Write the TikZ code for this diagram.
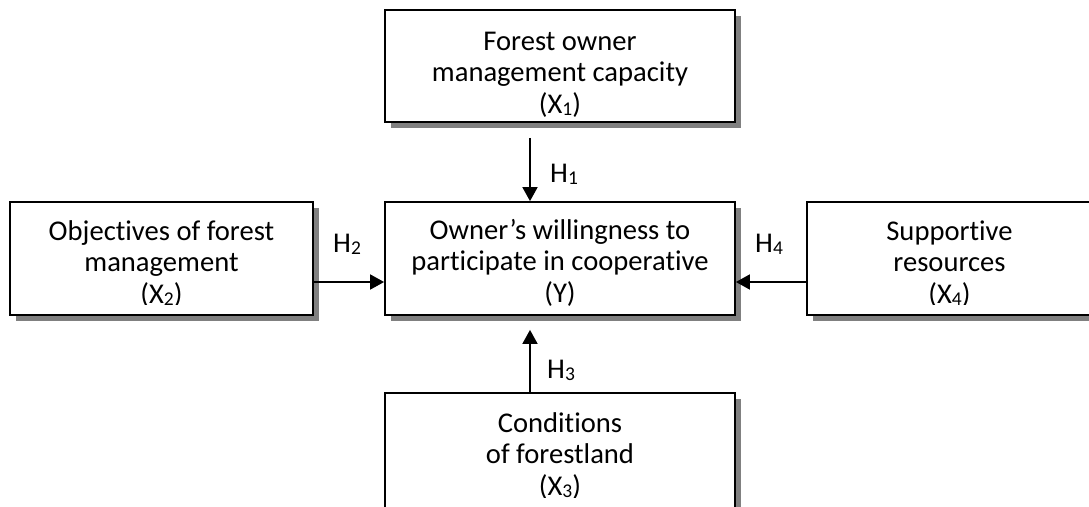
\documentclass[tikz,border=0pt]{standalone}
\usepackage{fontspec}
\setmainfont{Carlito}[Ligatures={NoCommon}]
\usetikzlibrary{arrows.meta,shadows}
\newcommand\lowsub[1]{\raisebox{-2.5pt}{\fontsize{19.5}{19.5}\selectfont #1}}
\begin{document}
\begin{tikzpicture}[x=1pt,y=-1pt,
  box/.style={draw=black, line width=1.8pt, fill=white, minimum width=#1,
    minimum height=113pt, inner sep=0pt,
    drop shadow={shadow xshift=6pt, shadow yshift=-6pt, fill=black!50, opacity=1}},
  txt/.style={align=center, font=\fontsize{28.6}{31.5}\selectfont, inner sep=0pt, anchor=base},
  hlab/.style={font=\fontsize{28.6}{31.5}\selectfont, inner sep=0pt, anchor=base west},
  arr/.style={line width=1.8pt, -{Triangle[length=14pt,width=15pt]}}]
\useasboundingbox (0,0) rectangle (1089,506);
\clip (0,0) rectangle (1089,506);
\fill[white] (0,0) rectangle (1089,506);

% boxes
\node[box=350pt, minimum height=112pt] (top) at (560,66) {};
\node[box=350pt] (center) at (560,258.5) {};
\node[box=303pt] (left) at (161.5,258.5) {};
\node[box=285pt] (right) at (949.5,258.5) {};
\node[box=350pt, minimum height=124pt] (bottom) at (560,455) {};

% texts
\node[txt] (toptext) at (560,113) {Forest owner\\management capacity\\(X\lowsub{1})};
\node[txt] (centertext) at (560,302) {Owner’s willingness to\\participate in cooperative\\(Y)};
\begin{scope}
  \clip (10,202) rectangle (313,304);
  \node[txt] (lefttext) at (161.5,303) {Objectives of forest\\management\\(X\lowsub{2})};
\end{scope}
\begin{scope}
  \clip (807,202) rectangle (1092,304);
  \node[txt] (righttext) at (949.5,303) {Supportive\\resources\\(X\lowsub{4})};
\end{scope}
\begin{scope}
  \clip (385,393) rectangle (735,497);
  \node[txt] (bottomtext) at (560,495) {Conditions\\of forestland\\(X\lowsub{3})};
\end{scope}

% connectors
\draw[arr, shorten <=15pt] ([xshift=-30pt]top.south) -- ([xshift=-30pt]center.north);
\draw[arr, shorten >=14pt] ([xshift=-30pt]bottom.north) -- ([xshift=-30pt]center.south);
\draw[arr] ([yshift=-23.5pt]left.east) -- ([yshift=-23.5pt]center.west);
\draw[arr] ([yshift=-23.5pt]right.west) -- ([yshift=-23.5pt]center.east);

% hypothesis labels
\node[hlab] (h1) at (550,182) {H\lowsub{1}};
\node[hlab] (h2) at (333,252) {H\lowsub{2}};
\node[hlab] (h3) at (547,378) {H\lowsub{3}};
\node[hlab] (h4) at (755,252) {H\lowsub{4}};
\end{tikzpicture}
\end{document}
